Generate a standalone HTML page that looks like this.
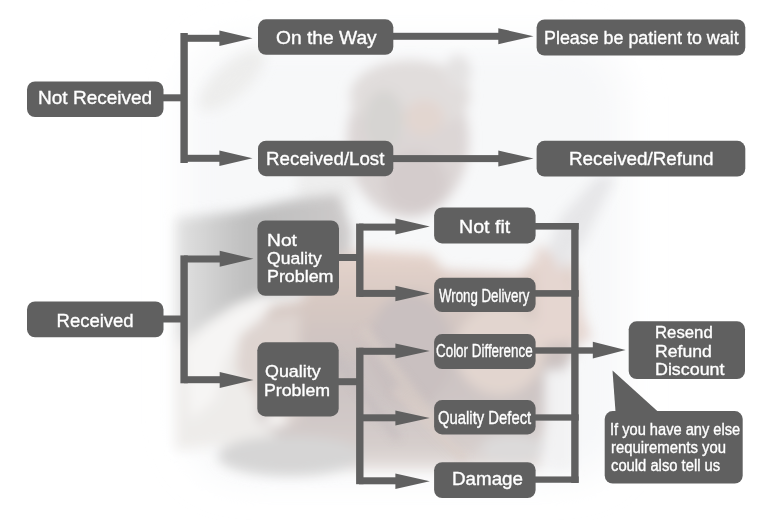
<!DOCTYPE html>
<html><head><meta charset="utf-8"><style>
html,body{margin:0;padding:0;}
body{width:780px;height:520px;overflow:hidden;position:relative;background:#ffffff;font-family:"Liberation Sans", sans-serif;}
#bg{position:absolute;left:0;top:0;width:780px;height:520px;overflow:hidden;}
svg.d{position:absolute;left:0;top:0;}
.bl{display:inline-block;width:0;height:0;vertical-align:baseline;}
.t{position:absolute;white-space:nowrap;line-height:1;color:#ffffff;transform-origin:0 0;-webkit-text-stroke:0.35px #ffffff;}
</style></head><body>
<div id="bg"><svg width="780" height="520" viewBox="0 0 780 520" style="position:absolute;left:0;top:0">
<defs>
<filter id="b20" x="-50%" y="-50%" width="200%" height="200%"><feGaussianBlur stdDeviation="18"/></filter>
<filter id="b6" x="-50%" y="-50%" width="200%" height="200%"><feGaussianBlur stdDeviation="6"/></filter>
<filter id="b9" x="-50%" y="-50%" width="200%" height="200%"><feGaussianBlur stdDeviation="9"/></filter>
<filter id="b4" x="-50%" y="-50%" width="200%" height="200%"><feGaussianBlur stdDeviation="4"/></filter>
<linearGradient id="suit" gradientUnits="userSpaceOnUse" x1="176" y1="0" x2="352" y2="0">
  <stop offset="0" stop-color="rgb(226,226,226)"/>
  <stop offset="0.14" stop-color="rgb(214,214,214)"/>
  <stop offset="0.31" stop-color="rgb(198,198,198)"/>
  <stop offset="0.42" stop-color="rgb(190,190,190)"/>
  <stop offset="0.7" stop-color="rgb(196,195,195)"/>
  <stop offset="1" stop-color="rgb(206,203,203)"/>
</linearGradient>
<linearGradient id="handv" gradientUnits="userSpaceOnUse" x1="0" y1="250" x2="0" y2="475">
  <stop offset="0" stop-color="rgb(230,212,204)"/>
  <stop offset="0.25" stop-color="rgb(214,200,194)"/>
  <stop offset="0.5" stop-color="rgb(203,194,193)"/>
  <stop offset="0.75" stop-color="rgb(208,200,199)"/>
  <stop offset="0.88" stop-color="rgb(214,206,204)"/>
  <stop offset="1" stop-color="rgb(236,231,229)"/>
</linearGradient>
</defs>
<g filter="url(#b20)">
  <rect x="185" y="40" width="440" height="440" rx="60" fill="rgb(247,248,249)"/>
</g>
<g filter="url(#b6)">
  <!-- head -->
  <ellipse cx="325" cy="185" rx="28" ry="40" fill="rgb(238,238,238)"/>
  <ellipse cx="408" cy="140" rx="61" ry="78" fill="rgb(220,214,213)"/>
  <ellipse cx="410" cy="96" rx="60" ry="36" fill="rgb(225,221,220)"/>
  <ellipse cx="458" cy="72" rx="13" ry="17" fill="rgb(228,226,226)"/>
  <ellipse cx="424" cy="118" rx="20" ry="18" fill="rgb(226,214,208)"/>
  <ellipse cx="384" cy="120" rx="20" ry="30" fill="rgb(214,212,210)"/>
  <ellipse cx="415" cy="182" rx="32" ry="30" fill="rgb(212,204,204)"/>
</g>
<g filter="url(#b6)">
  <ellipse cx="232" cy="80" rx="42" ry="16" fill="rgb(237,237,236)" transform="rotate(-42 232 80)"/>
  <!-- suit -->
  <polygon points="176,218 240,211 290,200 338,194 352,230 350,262 300,292 258,296 230,310 200,330 176,345" fill="url(#suit)"/>
  <!-- light lower-left -->
  <polygon points="176,345 200,330 230,310 258,296 300,300 300,420 270,440 176,450" fill="rgb(238,236,234)"/>
  <!-- hand -->
  <polygon points="300,300 330,258 364,250 430,254 445,270 520,274 545,250 575,262 585,330 560,380 545,420 540,470 480,470 420,470 340,470 300,455 258,420 255,310" fill="url(#handv)"/>
  <ellipse cx="500" cy="350" rx="45" ry="45" fill="rgb(226,213,207)"/>
  <ellipse cx="410" cy="350" rx="42" ry="58" fill="rgb(201,192,192)"/>
  <!-- cuff -->
  <polygon points="185,350 205,325 235,305 258,296 275,300 262,318 240,335 225,360 215,400 190,420" fill="rgb(246,245,244)"/>
  <polygon points="240,335 262,318 300,312 300,420 282,424 258,400 236,370" fill="rgb(222,212,208)"/>
  <ellipse cx="276" cy="420" rx="12" ry="6" fill="rgb(250,249,248)"/>
  <!-- grey band bottom -->
  <ellipse cx="290" cy="456" rx="72" ry="20" fill="rgb(214,213,213)"/>
  <ellipse cx="512" cy="448" rx="32" ry="14" fill="rgb(220,218,218)"/>
  <!-- right cuff -->
  <rect x="545" y="370" width="28" height="100" fill="rgb(242,242,243)"/>
  <!-- sleeve -->
  <polygon points="598,176 616,176 582,245 562,275 546,252 560,218" fill="rgb(230,230,232)"/>
  <polygon points="536,245 548,250 575,290 592,340 536,345" fill="rgb(229,214,208)"/>
</g>

<g filter="url(#b4)" opacity="0.8">
  <rect x="340" y="372" width="120" height="9" fill="rgb(216,204,198)" transform="rotate(52 400 376)"/>
  <rect x="310" y="392" width="110" height="7" fill="rgb(196,188,190)" transform="rotate(52 365 395)"/>
  <rect x="380" y="420" width="100" height="9" fill="rgb(218,206,200)" transform="rotate(45 430 424)"/>
</g>
</svg>
</div>
<svg class="d" width="780" height="520" viewBox="0 0 780 520" fill="#606060">
<rect x="160.00" y="94.30" width="26.00" height="7.00"/>
<rect x="180.40" y="33.00" width="7.40" height="130.00"/>
<rect x="184.00" y="34.80" width="37.00" height="7.00"/>
<rect x="184.00" y="154.80" width="37.00" height="7.00"/>
<rect x="390.00" y="32.80" width="110.00" height="7.00"/>
<rect x="390.00" y="155.10" width="110.00" height="7.00"/>
<rect x="160.00" y="315.50" width="26.00" height="7.00"/>
<rect x="180.40" y="255.40" width="7.40" height="127.90"/>
<rect x="184.00" y="255.50" width="37.00" height="7.00"/>
<rect x="184.00" y="376.20" width="37.00" height="7.00"/>
<rect x="336.00" y="254.00" width="26.00" height="7.00"/>
<rect x="356.10" y="223.60" width="7.40" height="73.30"/>
<rect x="359.00" y="223.60" width="39.00" height="7.00"/>
<rect x="359.00" y="289.90" width="39.00" height="7.00"/>
<rect x="336.00" y="378.20" width="26.00" height="7.00"/>
<rect x="356.10" y="347.70" width="7.40" height="136.50"/>
<rect x="359.00" y="347.80" width="39.00" height="7.00"/>
<rect x="359.00" y="414.30" width="39.00" height="7.00"/>
<rect x="359.00" y="477.30" width="39.00" height="7.00"/>
<rect x="571.20" y="223.00" width="7.40" height="260.00"/>
<rect x="533.00" y="223.00" width="45.70" height="6.60"/>
<rect x="533.00" y="290.10" width="45.70" height="6.60"/>
<rect x="533.00" y="347.30" width="61.00" height="6.40"/>
<rect x="533.00" y="414.35" width="45.70" height="6.30"/>
<rect x="533.00" y="476.45" width="45.70" height="6.30"/>
<polygon points="219.40,30.55 252.50,38.30 219.40,46.05"/>
<polygon points="219.40,150.55 252.50,158.30 219.40,166.05"/>
<polygon points="498.30,28.20 533.50,36.20 498.30,44.20"/>
<polygon points="498.30,150.60 533.50,158.60 498.30,166.60"/>
<polygon points="219.70,250.80 253.50,258.80 219.70,266.80"/>
<polygon points="219.70,372.00 253.50,380.00 219.70,388.00"/>
<polygon points="395.40,218.60 429.80,226.60 395.40,234.60"/>
<polygon points="395.40,285.85 429.80,293.60 395.40,301.35"/>
<polygon points="395.40,343.60 429.80,351.10 395.40,358.60"/>
<polygon points="395.40,410.40 429.80,417.90 395.40,425.40"/>
<polygon points="395.40,473.60 429.80,481.30 395.40,489.00"/>
<polygon points="592.80,341.75 625.60,350.10 592.80,358.45"/>
<polygon points="612.50,370.40 615.60,413.00 659.50,413.00"/>
<rect x="27.00" y="81.50" width="136.50" height="35.50" rx="8"/>
<rect x="258.00" y="19.30" width="135.30" height="35.50" rx="8"/>
<rect x="536.60" y="19.40" width="208.70" height="36.10" rx="8"/>
<rect x="258.00" y="140.70" width="135.30" height="35.50" rx="8"/>
<rect x="536.60" y="140.80" width="208.70" height="35.70" rx="8"/>
<rect x="27.00" y="301.50" width="136.50" height="35.80" rx="8"/>
<rect x="257.40" y="220.50" width="81.60" height="75.30" rx="8"/>
<rect x="257.30" y="342.30" width="81.40" height="74.10" rx="8"/>
<rect x="434.10" y="207.50" width="101.50" height="35.90" rx="8"/>
<rect x="434.10" y="277.80" width="101.50" height="34.20" rx="8"/>
<rect x="434.10" y="334.10" width="101.50" height="34.90" rx="8"/>
<rect x="434.10" y="400.10" width="101.50" height="34.30" rx="8"/>
<rect x="434.10" y="462.20" width="101.50" height="35.90" rx="8"/>
<rect x="628.70" y="321.30" width="116.30" height="57.70" rx="8"/>
<rect x="604.70" y="411.10" width="138.00" height="72.40" rx="8"/>
</svg>
<div class="t" style="left:38.18px;top:89.32px;font-size:18.3px;transform:scaleX(1.0406);">Not Received</div>
<div class="t" style="left:276.03px;top:28.72px;font-size:18.8px;transform:scaleX(1.0229);">On the Way</div>
<div class="t" style="left:544.07px;top:28.91px;font-size:18.3px;transform:scaleX(0.9771);">Please be patient to wait</div>
<div class="t" style="left:266.20px;top:149.61px;font-size:18.3px;transform:scaleX(1.0221);">Received/Lost</div>
<div class="t" style="left:569.49px;top:149.91px;font-size:18.3px;transform:scaleX(1.0304);">Received/Refund</div>
<div class="t" style="left:56.52px;top:311.82px;font-size:18.5px;">Received</div>
<div class="t" style="left:266.56px;top:232.61px;font-size:16.8px;transform:scaleX(1.1459);">Not</div>
<div class="t" style="left:267.31px;top:250.80px;font-size:16.8px;transform:scaleX(1.0468);">Quality</div>
<div class="t" style="left:266.67px;top:269.30px;font-size:16.8px;transform:scaleX(1.0641);">Problem</div>
<div class="t" style="left:264.60px;top:364.01px;font-size:16.8px;transform:scaleX(1.0642);">Quality</div>
<div class="t" style="left:264.38px;top:382.51px;font-size:16.8px;transform:scaleX(1.0575);">Problem</div>
<div class="t" style="left:459.23px;top:218.11px;font-size:18.5px;transform:scaleX(1.0618);">Not fit</div>
<div class="t" style="left:438.93px;top:287.60px;font-size:17.7px;transform:scaleX(0.7500);">Wrong Delivery</div>
<div class="t" style="left:436.23px;top:343.01px;font-size:17.8px;transform:scaleX(0.7538);">Color Difference</div>
<div class="t" style="left:437.53px;top:410.21px;font-size:17.7px;transform:scaleX(0.8388);">Quality Defect</div>
<div class="t" style="left:452.10px;top:470.20px;font-size:18.3px;transform:scaleX(1.0271);">Damage</div>
<div class="t" style="left:654.86px;top:324.31px;font-size:17.2px;transform:scaleX(0.9743);">Resend</div>
<div class="t" style="left:654.79px;top:342.60px;font-size:17.2px;transform:scaleX(1.0250);">Refund</div>
<div class="t" style="left:654.77px;top:361.00px;font-size:17.2px;transform:scaleX(1.0390);">Discount</div>
<div class="t" style="left:610.48px;top:421.71px;font-size:16px;transform:scaleX(0.9147);">If you have any else</div>
<div class="t" style="left:610.83px;top:439.71px;font-size:16px;transform:scaleX(0.9307);">requirements you</div>
<div class="t" style="left:611.21px;top:457.71px;font-size:16px;transform:scaleX(0.9230);">could also tell us</div>
</body></html>
